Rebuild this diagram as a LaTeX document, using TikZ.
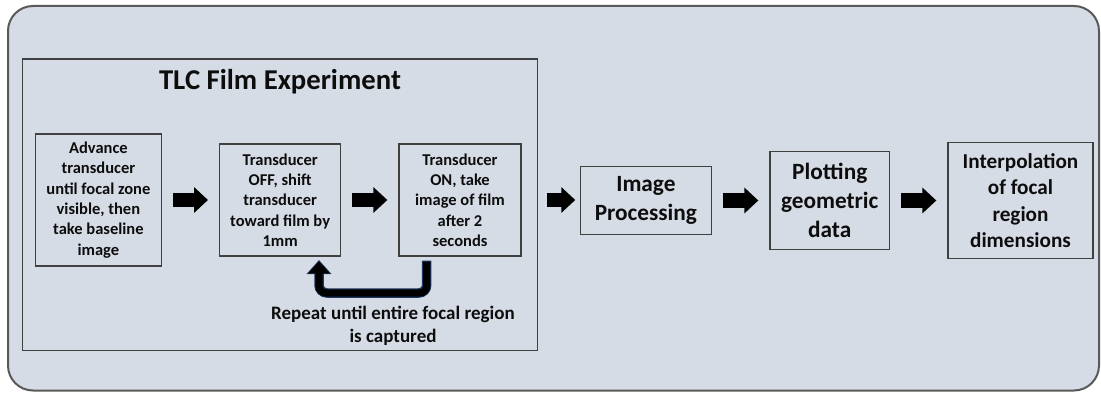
\documentclass[tikz,border=0pt]{standalone}
\usepackage{fontspec}
\setmainfont{Carlito}
\usetikzlibrary{arrows.meta,calc}
\definecolor{bgfill}{HTML}{D6DCE5}
\definecolor{outerline}{HTML}{595959}
\definecolor{boxline}{HTML}{404040}
\definecolor{loopedge}{HTML}{1F3864}
\definecolor{txt}{HTML}{0D0D0D}
\begin{document}
\begin{tikzpicture}[x=1pt,y=-1pt,
  stepbox/.style={draw=boxline,line width=1.3pt,fill=bgfill,inner sep=0pt,align=center,text=txt,
    font=\bfseries\fontsize{16.5}{20.3}\selectfont},
  bigbox/.style={stepbox,font=\bfseries\fontsize{23.3}{29}\selectfont},
  interpbox/.style={stepbox,font=\bfseries\fontsize{21.2}{26.3}\selectfont},
  blockarrow/.style={line width=14pt,-{Triangle[width=25pt,length=14pt]},shorten <=11pt,shorten >=11pt},
  loopouter/.style={draw=loopedge,line width=9.5pt,rounded corners=8pt,-{Triangle[width=24pt,length=14pt]}},
  loopinner/.style={draw=black,line width=7.3pt,rounded corners=7pt,-{Triangle[width=21pt,length=12pt]}}]
\useasboundingbox (0,0) rectangle (1101,393);
\node[draw=outerline,line width=2pt,fill=bgfill,rounded corners=25pt,inner sep=0pt,
  minimum width=1091pt,minimum height=384.5pt] (frame) at (553.5,198.25) {};
\node[draw=boxline,line width=1.3pt,inner sep=0pt,minimum width=515pt,minimum height=291.7pt] (tlc) at (280,204.85) {};
\node[text=txt,font=\bfseries\fontsize{28.7}{34}\selectfont] (title) at (280,82) {TLC Film Experiment};
\node[stepbox,minimum width=126pt,minimum height=132pt] (advance) at (98.4,200)
  {Advance\\transducer\\until focal zone\\visible, then\\take baseline\\image};
\node[stepbox,minimum width=121pt,minimum height=112pt] (shift) at (280.15,200)
  {Transducer\\OFF, shift\\transducer\\toward film by\\1mm};
\node[stepbox,minimum width=122pt,minimum height=112pt] (take) at (460,200)
  {Transducer\\ON, take\\image of film\\after 2\\seconds};
\node[bigbox,minimum width=131pt,minimum height=67.6pt] (proc) at (645.9,200.5)
  {Image\\Processing};
\node[bigbox,minimum width=119.5pt,minimum height=97.6pt] (plot) at (829.75,200.5)
  {Plotting\\geometric\\data};
\node[interpbox,minimum width=145pt,minimum height=115.6pt] (interp) at (1020.5,200.5)
  {Interpolation\\of focal\\region\\dimensions};
\node[text=txt,align=center,font=\bfseries\fontsize{19}{23.3}\selectfont] (repeat) at (393,326)
  {Repeat until entire focal region\\is captured};
\draw[blockarrow] (advance.east) -- (shift.west);
\draw[blockarrow] (shift.east) -- (take.west);
\draw[blockarrow,shorten <=8.5pt,shorten >=4.5pt] (tlc.east |- take.east) -- (proc.west |- take.east);
\draw[blockarrow] (proc.east) -- (plot.west);
\draw[blockarrow] (plot.east) -- (interp.west);
\coordinate (loopA) at (426.7,260.7);
\coordinate (loopB) at (319,260);
\draw[loopouter] (loopA) -- ++(0,32.3) -| (loopB);
\draw[loopinner] ($(loopA)+(0,1)$) -- ++(0,31.3) -| ($(loopB)+(0,1.4)$);
\end{tikzpicture}
\end{document}
